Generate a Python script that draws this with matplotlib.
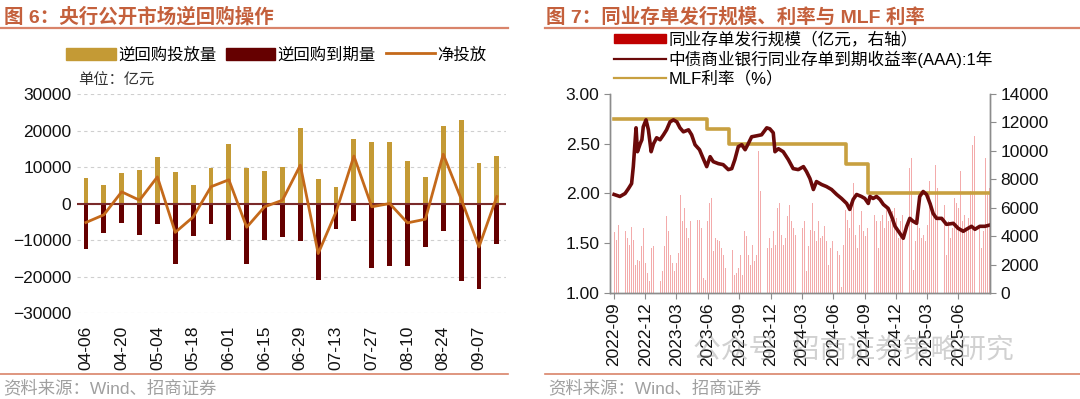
import numpy as np
import pandas as pd
import matplotlib
matplotlib.use("Agg")
import matplotlib.pyplot as plt
from matplotlib.patches import Patch
from matplotlib.lines import Line2D

plt.rcParams['font.family'] = ['Liberation Sans', 'Noto Sans CJK SC']

# ========================
#  图6 数据（亿元）
# ========================
weeks = ['04-06', '04-13', '04-20', '04-27', '05-04', '05-11', '05-18', '05-25',
         '06-01', '06-08', '06-15', '06-22', '06-29', '07-06', '07-13', '07-20',
         '07-27', '08-03', '08-10', '08-17', '08-24', '08-31', '09-07', '09-14']
repo_in = [7100, 5000, 8300, 9100, 12700, 8700, 5100, 9800, 16400, 9600, 9000, 9900,
           20600, 6800, 4500, 17600, 16900, 16900, 11600, 7300, 21100, 23000, 11100, 12900]
repo_out = [-12400, -8200, -5300, -8700, -5600, -16600, -9000, -5500, -10100, -16500, -9900, -9100,
            -10200, -20900, -7000, -4800, -17800, -17100, -17100, -11900, -7600, -21300, -23400, -11100]
net = [-5200, -3100, 3200, 900, 7300, -7900, -3700, 4600, 6500, -6500, -900, 900,
       10500, -13700, -2300, 13000, -900, 0, -5300, -4300, 13500, 1300, -11900, 1900]

# ========================
#  图7 数据
# ========================
yield_dates = ['2022-09-01', '2022-09-18', '2022-10-03', '2022-10-13', '2022-10-22', '2022-10-27',
               '2022-11-04', '2022-11-08', '2022-11-16', '2022-11-21', '2022-11-25', '2022-12-03',
               '2022-12-10', '2022-12-18', '2022-12-25', '2023-01-03', '2023-01-13', '2023-01-23',
               '2023-02-01', '2023-02-11', '2023-02-21', '2023-03-03', '2023-03-12', '2023-03-22',
               '2023-04-06', '2023-04-15', '2023-04-25', '2023-05-08', '2023-05-19', '2023-05-29',
               '2023-06-08', '2023-06-17', '2023-07-02', '2023-07-16', '2023-07-31', '2023-08-10',
               '2023-08-19', '2023-08-29', '2023-09-08', '2023-09-18', '2023-09-27', '2023-10-07',
               '2023-10-22', '2023-11-05', '2023-11-20', '2023-11-29', '2023-12-09', '2023-12-14',
               '2023-12-24', '2024-01-07', '2024-01-22', '2024-02-05', '2024-02-20', '2024-03-06',
               '2024-03-15', '2024-03-25', '2024-04-04', '2024-04-13', '2024-04-28', '2024-05-12',
               '2024-05-27', '2024-06-11', '2024-06-25', '2024-07-10', '2024-07-19', '2024-07-29',
               '2024-08-08', '2024-08-22', '2024-09-01', '2024-09-11', '2024-09-16', '2024-09-25',
               '2024-10-05', '2024-10-15', '2024-10-25', '2024-11-08', '2024-11-18', '2024-11-28',
               '2024-12-12', '2024-12-22', '2025-01-01', '2025-01-10', '2025-01-20', '2025-01-30',
               '2025-02-08', '2025-02-18', '2025-02-28', '2025-03-10', '2025-03-19', '2025-03-29',
               '2025-04-13', '2025-04-27', '2025-05-17', '2025-05-31', '2025-06-15', '2025-06-24',
               '2025-07-09', '2025-07-19', '2025-08-02', '2025-08-17', '2025-08-28']
ncd_yield = [1.99, 1.97, 2.00, 2.05, 2.10, 2.27, 2.66, 2.42, 2.50, 2.54, 2.67, 2.74,
             2.64, 2.42, 2.50, 2.56, 2.54, 2.59, 2.64, 2.72, 2.74, 2.72, 2.66, 2.62,
             2.64, 2.59, 2.49, 2.44, 2.35, 2.27, 2.37, 2.32, 2.30, 2.29, 2.24, 2.25,
             2.34, 2.47, 2.49, 2.44, 2.50, 2.57, 2.58, 2.59, 2.66, 2.65, 2.61, 2.42,
             2.45, 2.42, 2.34, 2.25, 2.24, 2.27, 2.22, 2.15, 2.04, 2.12, 2.09, 2.07,
             2.04, 1.99, 1.95, 1.90, 1.84, 1.94, 1.99, 1.97, 1.95, 1.90, 1.97, 1.95,
             1.97, 1.94, 1.89, 1.85, 1.77, 1.67, 1.60, 1.55, 1.67, 1.75, 1.72, 1.70,
             1.97, 2.02, 1.99, 1.90, 1.80, 1.75, 1.75, 1.69, 1.70, 1.65, 1.62, 1.64,
             1.67, 1.64, 1.67, 1.67, 1.68]

mlf_dates = ['2022-09-01', '2023-05-29', '2023-08-03', '2024-07-08', '2024-09-11', '2025-08-28']
mlf_rate = [2.75, 2.65, 2.50, 2.30, 2.00, 2.00]

# 同业存单发行规模（亿元），按图读取的样本
ncd_issue = [4300, 3750, 4800, 4700, 4570, 4340, 3870, 3400, 4620, 3750, 2000, 2350, 2230, 3280,
             4570, 2110, 1400, 820, 3140, 3280, 2700, 1640, 820, 1520, 3280, 5400, 4340, 2700,
             2110, 1520, 2110, 2800, 6900, 5040, 5980, 4570, 3870, 5040, 3630, 2930, 5160, 5160,
             4570,
             1050, 940, 5040, 6330, 6680, 2930, 3870, 3750, 3630, 3170, 2700, 1760, 8090, 4100,
             3050, 1290, 1400, 1760, 2700, 1290, 4340, 3990, 2700, 1990, 3400, 2230, 2700, 9970,
             7150, 7150, 4570, 3170, 3870, 3170, 4340, 3400, 5980, 6330, 4100, 3400, 3870, 5400,
             6210, 5040, 4570, 4100,
             4100, 2580, 4570, 5040, 1520, 3280, 4450, 6330, 4340, 3630, 5040, 3870, 3990, 4690,
             3630, 1990, 3170, 3630, 2930, 2930, 2700, 400, 3400, 5860, 5160, 4570, 6450, 7740,
             4100, 3170, 4810, 5750, 4340, 3990, 4570, 6210, 7390, 5510, 5040, 3170, 5040, 5510,
             4570, 6210, 5040, 5160, 5750,
             5980, 5280, 3870, 5040, 5510, 5160, 9500, 8790, 9500, 1640, 3630, 5040, 4570, 3870,
             4100, 3630, 4810, 7860, 6330, 5510, 9030, 7390, 11490, 11260, 6210, 2700, 5040, 3870,
             4570, 6680, 6330, 5980, 8560, 5040, 5510, 4570, 5280, 7150, 10440, 11020, 5040, 4570,
             3170, 4340, 9500, 6920, 7390]

x_ticks = ['2022-09', '2022-12', '2023-03', '2023-06', '2023-09', '2023-12',
           '2024-03', '2024-06', '2024-09', '2024-12', '2025-03', '2025-06']

# ========================
#  画图
# ========================
fig = plt.figure(figsize=(10.8, 3.99), dpi=100)

title_color = '#C4603C'
rule_color = '#D9846A'
fs = 12.5

# 标题、分隔线、资料来源
fig.text(0.004, 0.957, '图 6：央行公开市场逆回购操作', fontsize=14, fontweight='bold',
         color=title_color, va='center')
fig.text(0.506, 0.957, '图 7：同业存单发行规模、利率与 MLF 利率', fontsize=14, fontweight='bold',
         color=title_color, va='center')
fig.add_artist(Line2D([0.0, 0.470], [0.930, 0.930], color=rule_color, lw=1.6))
fig.add_artist(Line2D([0.505, 1.0], [0.930, 0.930], color=rule_color, lw=1.6))
fig.add_artist(Line2D([0.0, 0.470], [0.063, 0.063], color=rule_color, lw=1.2))
fig.add_artist(Line2D([0.505, 1.0], [0.063, 0.063], color=rule_color, lw=1.2))
fig.text(0.003, 0.027, '资料来源：Wind、招商证券', fontsize=12.5, color='#A0A0A0', va='center')
fig.text(0.508, 0.027, '资料来源：Wind、招商证券', fontsize=12.5, color='#A0A0A0', va='center')

# ---- 图6 ----
gold = '#C49A35'
dark = '#650000'
orange = '#C4691A'

ax1 = fig.add_axes([0.0713, 0.2155, 0.397, 0.5489])
x = np.arange(len(weeks))
ax1.bar(x, repo_in, width=0.27, color=gold, zorder=2)
ax1.bar(x, repo_out, width=0.27, color=dark, zorder=2)
ax1.axhline(0, color='#7A2A2A', lw=1.5, zorder=3)
ax1.plot(x, net, color=orange, lw=2, zorder=4)
ax1.set_xlim(-0.5, len(weeks) - 0.5)
ax1.set_ylim(-30000, 30000)
ax1.set_yticks(np.arange(-30000, 30001, 10000))
ax1.grid(axis='y', color='#CFCFCF', lw=0.8, ls=(0, (3, 3)), zorder=0)
for s in ax1.spines.values():
    s.set_visible(False)
ax1.set_xticks(x[::2])
ax1.set_xticklabels(weeks[::2], rotation=90)
ax1.tick_params(axis='both', length=0, labelsize=fs, colors='#111111')
ax1.tick_params(axis='x', pad=9)
ax1.tick_params(axis='y', pad=4)

handles1 = [Patch(facecolor=gold, edgecolor=gold), Patch(facecolor=dark, edgecolor=dark),
            Line2D([], [], color=orange, lw=2)]
fig.legend(handles1, ['逆回购投放量', '逆回购到期量', '净投放'], ncol=3, frameon=False,
           loc='center', bbox_to_anchor=(0.256, 0.863), fontsize=11.8, handlelength=3.0,
           handleheight=0.75, columnspacing=0.6, handletextpad=0.15)
fig.text(0.072, 0.797, '单位：亿元', fontsize=11, color='#333333', va='center')

# ---- 图7 ----
ax2 = fig.add_axes([0.5648, 0.2657, 0.3519, 0.4987])
ax3 = ax2.twinx()

bar_dates = pd.date_range('2022-09-03', '2025-08-30', periods=len(ncd_issue))
ax3.bar(bar_dates, ncd_issue, width=2.6, color='#F3ABAB', lw=0)
ax3.set_ylim(0, 14000)
ax3.set_yticks(np.arange(0, 14001, 2000))

ax2.set_zorder(ax3.get_zorder() + 1)
ax2.patch.set_visible(False)
ax2.step(pd.to_datetime(mlf_dates), mlf_rate, where='post', color='#C8A040', lw=2.6)
ax2.plot(pd.to_datetime(yield_dates), ncd_yield, color='#6B0A0A', lw=2.6)
ax2.set_ylim(1.0, 3.0)
ax2.set_yticks(np.arange(1.0, 3.01, 0.5))
ax2.set_yticklabels([f'{v:.2f}' for v in np.arange(1.0, 3.01, 0.5)])
ax2.set_xlim(pd.Timestamp('2022-08-20'), pd.Timestamp('2025-09-01'))
ax2.set_xticks(pd.to_datetime(x_ticks))
ax2.set_xticklabels(x_ticks, rotation=90)

for a in (ax2, ax3):
    a.spines['top'].set_visible(False)
    for s in ('left', 'right', 'bottom'):
        a.spines[s].set_color('#8C8C8C')
        a.spines[s].set_linewidth(1.0)
    a.tick_params(direction='out', length=4, color='#8C8C8C', labelsize=fs,
                  labelcolor='#111111')
ax2.tick_params(axis='x', pad=3)

handles2 = [Patch(facecolor='#C00000', edgecolor='#C00000'),
            Line2D([], [], color='#6B0A0A', lw=1.6),
            Line2D([], [], color='#C8A040', lw=1.6)]
fig.legend(handles2, ['同业存单发行规模（亿元，右轴）', '中债商业银行同业存单到期收益率(AAA):1年', 'MLF利率（%）'],
           loc='upper left', bbox_to_anchor=(0.567, 0.925), frameon=False, fontsize=12,
           handlelength=3.1, handleheight=0.5, labelspacing=0.18, handletextpad=0.15,
           borderaxespad=0, borderpad=0.1)

# 水印
fig.text(0.79, 0.118, '公众号  招商证券策略研究', fontsize=20, color='#8C8C8C', alpha=0.4,
         ha='center', va='center')

fig.savefig('out.png', dpi=100)
